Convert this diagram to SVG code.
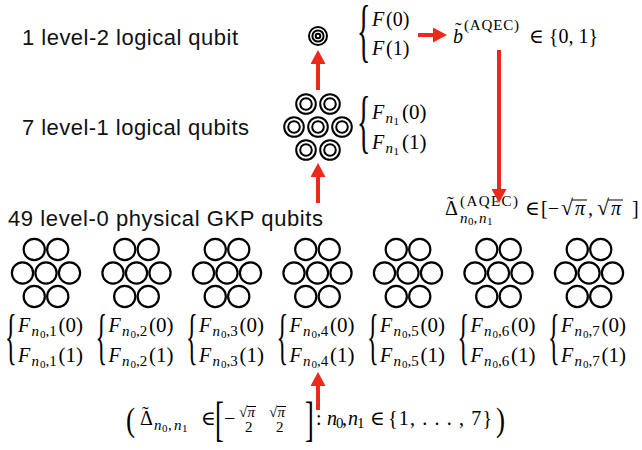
<svg xmlns="http://www.w3.org/2000/svg" xmlns:xlink="http://www.w3.org/1999/xlink" width="642" height="450" viewBox="0 0 642 450">
<style>
.lbl{font-family:"Liberation Sans",Arial,sans-serif;font-size:22px;fill:#111}
.m{font-family:"Liberation Serif","DejaVu Serif",serif;font-size:20px;fill:#000}
.i{font-style:italic}
.s{font-size:15px}
.ss{font-size:11px}
.p{font-size:21px}
.q{fill:none;stroke:#000;stroke-width:2.2}
.r{fill:none;stroke:#000;stroke-width:2}
.ar{stroke:#EC2A1C;stroke-width:4;fill:none}
.vin{stroke:#000;stroke-width:1}
</style>
<defs>
<marker id="ah" markerUnits="userSpaceOnUse" markerWidth="14" markerHeight="15" viewBox="0 0 14 15" refX="1" refY="7.5" orient="auto"><path d="M0,0 L14,7.5 L0,15 z" fill="#EC2A1C"/></marker>
<g id="hex">
<circle class="q" cx="-11.75" cy="-23.5" r="10.6"/><circle class="q" cx="11.75" cy="-23.5" r="10.6"/>
<circle class="q" cx="-23.5" cy="0" r="10.6"/><circle class="q" cx="0" cy="0" r="10.6"/><circle class="q" cx="23.5" cy="0" r="10.6"/>
<circle class="q" cx="-11.75" cy="23.5" r="10.6"/><circle class="q" cx="11.75" cy="23.5" r="10.6"/>
</g>
<g id="ring"><circle class="r" r="9.8"/><circle class="r" r="5.8"/></g>
</defs>

<text class="lbl" x="22" y="45" textLength="216">1 level-2 logical qubit</text>
<text class="lbl" x="22" y="135" textLength="227">7 level-1 logical qubits</text>
<text class="lbl" x="8" y="226" textLength="315">49 level-0 physical GKP qubits</text>

<g id="level2">
<circle class="r" cx="318" cy="36" r="9" stroke-width="1.8"/>
<circle class="r" cx="318" cy="36" r="5.6" stroke-width="1.8"/>
<circle class="r" cx="318" cy="36" r="2.3" stroke-width="1.8"/>
</g>
<g id="level2-values">
<text class="m" transform="translate(357,54) scale(0.4,1)" style="font-size:70px">{</text>
<text class="m"><tspan class="i" x="372" y="26">F</tspan><tspan x="386" y="26">(0)</tspan></text>
<text class="m"><tspan class="i" x="372" y="55">F</tspan><tspan x="386" y="55">(1)</tspan></text>
</g>
<g id="b-aqec">
<text class="m"><tspan class="i" x="453" y="43">b</tspan><tspan x="455" y="37">˜</tspan><tspan class="s" x="464" y="30" textLength="55">(AQEC)</tspan><tspan x="529" y="43">∈ {0, 1}</tspan></text>
</g>

<g id="level1">
<use xlink:href="#ring" x="306" y="104"/><use xlink:href="#ring" x="330" y="104"/>
<use xlink:href="#ring" x="294" y="127"/><use xlink:href="#ring" x="318" y="127"/><use xlink:href="#ring" x="342" y="127"/>
<use xlink:href="#ring" x="306" y="150"/><use xlink:href="#ring" x="330" y="150"/>
</g>
<g id="level1-values">
<text class="m" transform="translate(357,145) scale(0.4,1)" style="font-size:70px">{</text>
<text class="m"><tspan class="i" x="372" y="119">F</tspan><tspan class="s i" x="385.5" y="123">n</tspan><tspan class="ss" x="393.5" y="125">1</tspan><tspan class="p" x="402" y="119">(0)</tspan></text>
<text class="m"><tspan class="i" x="372" y="149">F</tspan><tspan class="s i" x="385.5" y="153">n</tspan><tspan class="ss" x="393.5" y="155">1</tspan><tspan class="p" x="402" y="149">(1)</tspan></text>
</g>

<g id="delta-aqec">
<text class="m"><tspan x="445" y="215">Δ</tspan><tspan x="447" y="211">˜</tspan><tspan class="s" x="460" y="206" textLength="58">(AQEC)</tspan><tspan class="s i" x="460" y="223">n</tspan><tspan class="ss" x="468" y="225">0</tspan><tspan class="s" x="473.5" y="223">,</tspan><tspan class="s i" x="479" y="223">n</tspan><tspan class="ss" x="487" y="225">1</tspan><tspan x="525" y="215">∈</tspan><tspan x="541" y="215">[−</tspan><tspan x="561" y="215" style="font-size:22px">√</tspan><tspan class="i" x="575" y="215">π</tspan><tspan x="588" y="215">,</tspan><tspan x="597" y="215" style="font-size:22px">√</tspan><tspan class="i" x="611" y="215">π</tspan><tspan x="632" y="215">]</tspan></text>
<line class="vin" x1="572" y1="200" x2="587" y2="200"/>
<line class="vin" x1="608" y1="200" x2="623" y2="200"/>
</g>

<g id="q1"><use xlink:href="#hex" x="46" y="273"/>
<text class="m" transform="translate(5,357) scale(0.4,1)" style="font-size:61px">{</text>
<text class="m"><tspan class="i" x="18" y="332">F</tspan><tspan class="s i" x="31.5" y="336">n</tspan><tspan class="ss" x="40" y="338">0</tspan><tspan class="s" x="45.5" y="336">,1</tspan><tspan class="p" x="58.5" y="332">(0)</tspan></text>
<text class="m"><tspan class="i" x="18" y="362">F</tspan><tspan class="s i" x="31.5" y="366">n</tspan><tspan class="ss" x="40" y="368">0</tspan><tspan class="s" x="45.5" y="366">,1</tspan><tspan class="p" x="58.5" y="362">(1)</tspan></text>
</g>
<g id="q2"><use xlink:href="#hex" x="136.5" y="273"/>
<text class="m" transform="translate(95.5,357) scale(0.4,1)" style="font-size:61px">{</text>
<text class="m"><tspan class="i" x="108.5" y="332">F</tspan><tspan class="s i" x="122" y="336">n</tspan><tspan class="ss" x="130.5" y="338">0</tspan><tspan class="s" x="136" y="336">,2</tspan><tspan class="p" x="149" y="332">(0)</tspan></text>
<text class="m"><tspan class="i" x="108.5" y="362">F</tspan><tspan class="s i" x="122" y="366">n</tspan><tspan class="ss" x="130.5" y="368">0</tspan><tspan class="s" x="136" y="366">,2</tspan><tspan class="p" x="149" y="362">(1)</tspan></text>
</g>
<g id="q3"><use xlink:href="#hex" x="227" y="273"/>
<text class="m" transform="translate(186,357) scale(0.4,1)" style="font-size:61px">{</text>
<text class="m"><tspan class="i" x="199" y="332">F</tspan><tspan class="s i" x="212.5" y="336">n</tspan><tspan class="ss" x="221" y="338">0</tspan><tspan class="s" x="226.5" y="336">,3</tspan><tspan class="p" x="239.5" y="332">(0)</tspan></text>
<text class="m"><tspan class="i" x="199" y="362">F</tspan><tspan class="s i" x="212.5" y="366">n</tspan><tspan class="ss" x="221" y="368">0</tspan><tspan class="s" x="226.5" y="366">,3</tspan><tspan class="p" x="239.5" y="362">(1)</tspan></text>
</g>
<g id="q4"><use xlink:href="#hex" x="317.5" y="273"/>
<text class="m" transform="translate(276.5,357) scale(0.4,1)" style="font-size:61px">{</text>
<text class="m"><tspan class="i" x="289.5" y="332">F</tspan><tspan class="s i" x="303" y="336">n</tspan><tspan class="ss" x="311.5" y="338">0</tspan><tspan class="s" x="317" y="336">,4</tspan><tspan class="p" x="330" y="332">(0)</tspan></text>
<text class="m"><tspan class="i" x="289.5" y="362">F</tspan><tspan class="s i" x="303" y="366">n</tspan><tspan class="ss" x="311.5" y="368">0</tspan><tspan class="s" x="317" y="366">,4</tspan><tspan class="p" x="330" y="362">(1)</tspan></text>
</g>
<g id="q5"><use xlink:href="#hex" x="408" y="273"/>
<text class="m" transform="translate(367,357) scale(0.4,1)" style="font-size:61px">{</text>
<text class="m"><tspan class="i" x="380" y="332">F</tspan><tspan class="s i" x="393.5" y="336">n</tspan><tspan class="ss" x="402" y="338">0</tspan><tspan class="s" x="407.5" y="336">,5</tspan><tspan class="p" x="420.5" y="332">(0)</tspan></text>
<text class="m"><tspan class="i" x="380" y="362">F</tspan><tspan class="s i" x="393.5" y="366">n</tspan><tspan class="ss" x="402" y="368">0</tspan><tspan class="s" x="407.5" y="366">,5</tspan><tspan class="p" x="420.5" y="362">(1)</tspan></text>
</g>
<g id="q6"><use xlink:href="#hex" x="498.5" y="273"/>
<text class="m" transform="translate(457.5,357) scale(0.4,1)" style="font-size:61px">{</text>
<text class="m"><tspan class="i" x="470.5" y="332">F</tspan><tspan class="s i" x="484" y="336">n</tspan><tspan class="ss" x="492.5" y="338">0</tspan><tspan class="s" x="498" y="336">,6</tspan><tspan class="p" x="511" y="332">(0)</tspan></text>
<text class="m"><tspan class="i" x="470.5" y="362">F</tspan><tspan class="s i" x="484" y="366">n</tspan><tspan class="ss" x="492.5" y="368">0</tspan><tspan class="s" x="498" y="366">,6</tspan><tspan class="p" x="511" y="362">(1)</tspan></text>
</g>
<g id="q7"><use xlink:href="#hex" x="589" y="273"/>
<text class="m" transform="translate(548,357) scale(0.4,1)" style="font-size:61px">{</text>
<text class="m"><tspan class="i" x="561" y="332">F</tspan><tspan class="s i" x="574.5" y="336">n</tspan><tspan class="ss" x="583" y="338">0</tspan><tspan class="s" x="588.5" y="336">,7</tspan><tspan class="p" x="601.5" y="332">(0)</tspan></text>
<text class="m"><tspan class="i" x="561" y="362">F</tspan><tspan class="s i" x="574.5" y="366">n</tspan><tspan class="ss" x="583" y="368">0</tspan><tspan class="s" x="588.5" y="366">,7</tspan><tspan class="p" x="601.5" y="362">(1)</tspan></text>
</g>

<g id="displacements">
<text class="m" transform="translate(126,431) scale(0.8,1)" style="font-size:34px">(</text>
<text class="m"><tspan x="140" y="425">Δ</tspan><tspan x="142" y="421">˜</tspan><tspan class="s i" x="154" y="430">n</tspan><tspan class="ss" x="162" y="432">0</tspan><tspan class="s" x="168" y="430">,</tspan><tspan class="s i" x="174" y="430">n</tspan><tspan class="ss" x="182" y="432">1</tspan><tspan x="201" y="425">∈</tspan><tspan x="224" y="425">−</tspan></text>
<text class="m" transform="translate(215,435) scale(0.55,1)" style="font-size:48px">[</text>
<text class="m s"><tspan x="239" y="417">√</tspan><tspan class="i" x="247.5" y="417">π</tspan><tspan x="245" y="432">2</tspan><tspan x="269" y="417">√</tspan><tspan class="i" x="277.5" y="417">π</tspan><tspan x="276" y="432">2</tspan></text>
<line class="vin" x1="247" y1="406.5" x2="256" y2="406.5"/>
<line class="vin" x1="277" y1="406.5" x2="286" y2="406.5"/>
<text class="m" transform="translate(305,435) scale(0.55,1)" style="font-size:48px">]</text>
<text class="m"><tspan x="316" y="425">:</tspan><tspan class="i" x="327" y="425">n</tspan><tspan class="s" x="336" y="428">0</tspan><tspan x="342" y="425">,</tspan><tspan class="i" x="348" y="425">n</tspan><tspan class="s" x="357" y="428">1</tspan><tspan x="370" y="425">∈</tspan><tspan x="388" y="425" textLength="104">{1, . . . , 7}</tspan></text>
<text class="m" transform="translate(496,431) scale(0.8,1)" style="font-size:34px">)</text>
</g>

<g id="connectors">
<line class="ar" x1="318" y1="90" x2="318" y2="63" marker-end="url(#ah)"/>
<line class="ar" x1="318" y1="203" x2="318" y2="176" marker-end="url(#ah)"/>
<line class="ar" x1="418" y1="35" x2="434" y2="35" marker-end="url(#ah)"/>
<line class="ar" x1="499" y1="50" x2="499" y2="190" marker-end="url(#ah)"/>
<line class="ar" x1="318" y1="410" x2="318" y2="385" marker-end="url(#ah)"/>
</g>
</svg>
